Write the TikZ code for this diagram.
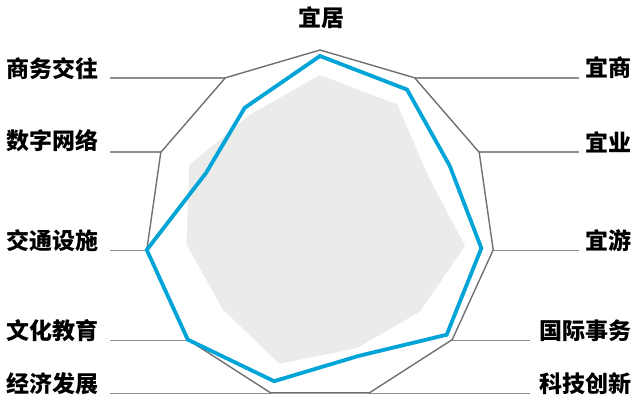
\documentclass[tikz,border=0pt]{standalone}
\usepackage{fontspec}
\newfontfamily\cjk{Noto Sans CJK SC}
\definecolor{ringgray}{RGB}{112,112,112}
\definecolor{leadgray}{RGB}{142,142,142}
\definecolor{fillgray}{RGB}{235,235,234}
\definecolor{lineblue}{RGB}{0,164,214}
\tikzset{
  lbl/.style={font=\cjk\bfseries\fontsize{23}{25}\selectfont, inner sep=0pt, text=black},
  leader/.style={draw=leadgray, line width=1.5pt},
  ring/.style={draw=ringgray, line width=1.4pt, line join=miter},
  series/.style={draw=lineblue, line width=3.8pt, line join=miter},
  shade/.style={fill=fillgray, draw=none}
}
\begin{document}
\begin{tikzpicture}[x=1pt, y=-1pt]
\useasboundingbox (0,0) rectangle (636,398);
\begin{scope}[shift={(320,225)}, x=1pt, y=1pt]
  % outer ring vertices
  \foreach \k in {0,...,10} {
    \coordinate (o\k) at ({90-\k*360/11}:175);
  }
  % data
  \foreach \k/\r in {0/169,1/161,2/142.6,3/163,4/167.6,5/136.5,6/162.8,7/175,8/175,9/125.3,10/139.3} {
    \coordinate (b\k) at ({90-\k*360/11}:\r);
  }
  \foreach \k/\r in {0/150,1/143.2,2/118.7,3/146.5,4/132.3,5/128.6,6/144.6,7/128.7,8/134.8,9/143.9,10/130.8} {
    \coordinate (g\k) at ({90-\k*360/11}:\r);
  }
\end{scope}
% leader line ends
\coordinate (e1) at (579,77.8);
\coordinate (e2) at (579,152);
\coordinate (e3) at (579,250.5);
\coordinate (e4) at (530,340.5);
\coordinate (e5) at (530,393.3);
\coordinate (e6) at (110,393.3);
\coordinate (e7) at (110,340.5);
\coordinate (e8) at (110,250.5);
\coordinate (e9) at (110,152);
\coordinate (e10) at (110,77.8);
\foreach \k in {1,...,10} { \draw[leader] (e\k) -- (o\k |- e\k); }
% shaded series
\fill[shade] (g0) -- (g1) -- (g2) -- (g3) -- (g4) -- (g5) -- (g6) -- (g7) -- (g8) -- (g9) -- (g10) -- cycle;
% outer ring
\draw[ring] (o0) -- (o1) -- (o2) -- (o3) -- (o4) -- (o5) -- (o6) -- (o7) -- (o8) -- (o9) -- (o10) -- cycle;
% blue series
\draw[series] (b0) -- (b1) -- (b2) -- (b3) -- (b4) -- (b5) -- (b6) -- (b7) -- (b8) -- (b9) -- (b10) -- cycle;
% labels
\node[lbl] (l0) at (321,18) {宜居};
\node[lbl, anchor=east] (l1) at (632,68) {宜商};
\node[lbl, anchor=east] (l2) at (632,142) {宜业};
\node[lbl, anchor=east] (l3) at (632,241) {宜游};
\node[lbl, anchor=east] (l4) at (632,331) {国际事务};
\node[lbl, anchor=east] (l5) at (632,383.5) {科技创新};
\node[lbl, anchor=west] (l6) at (6,383.5) {经济发展};
\node[lbl, anchor=west] (l7) at (6,331) {文化教育};
\node[lbl, anchor=west] (l8) at (6,241) {交通设施};
\node[lbl, anchor=west] (l9) at (6,140.5) {数字网络};
\node[lbl, anchor=west] (l10) at (6,68.5) {商务交往};
\end{tikzpicture}
\end{document}
